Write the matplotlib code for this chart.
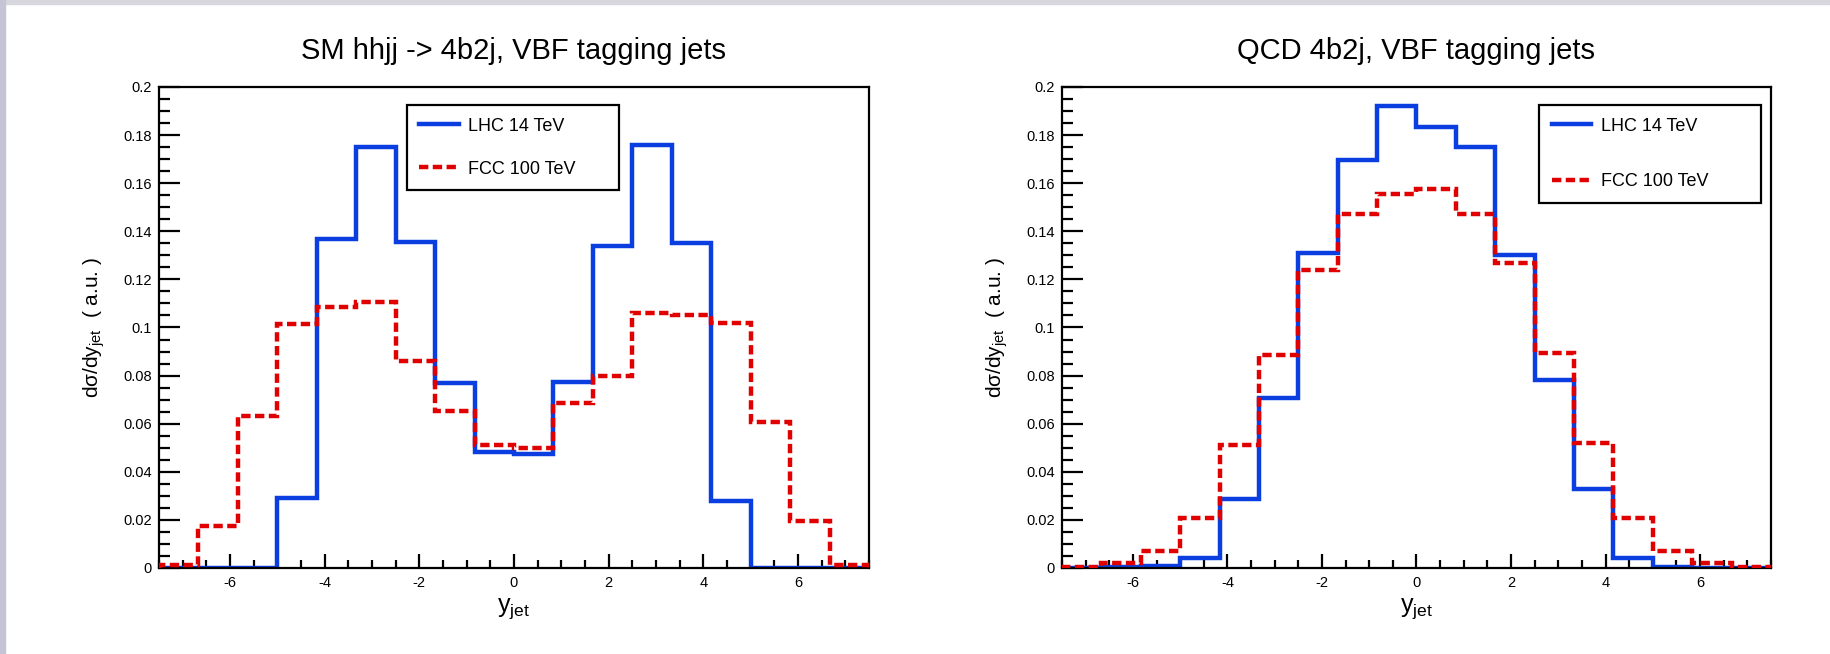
import numpy as np
import matplotlib.pyplot as plt
from matplotlib.patches import Rectangle
from matplotlib.ticker import MultipleLocator

plt.rcParams['font.family'] = ['Liberation Sans', 'DejaVu Sans']
plt.rcParams['mathtext.fontset'] = 'custom'
plt.rcParams['mathtext.rm'] = 'Liberation Sans'
plt.rcParams['mathtext.it'] = 'Liberation Sans'
plt.rcParams['axes.unicode_minus'] = False

# 18 bins over [-7.5, 7.5]
edges = np.linspace(-7.5, 7.5, 19)

# SM hhjj -> 4b2j (left panel)
sm_lhc = [0.0, 0.0, 0.0, 0.0293, 0.1367, 0.1749, 0.1354, 0.0770, 0.0484,
          0.0475, 0.0775, 0.1340, 0.1757, 0.1350, 0.0277, 0.0, 0.0, 0.0]
sm_fcc = [0.0012, 0.0173, 0.0630, 0.1016, 0.1085, 0.1106, 0.0861, 0.0653, 0.0510,
          0.0500, 0.0688, 0.0800, 0.1060, 0.1050, 0.1017, 0.0605, 0.0194, 0.0012]

# QCD 4b2j (right panel)
qcd_lhc = [0.0, 0.0003, 0.0007, 0.0040, 0.0286, 0.0705, 0.1309, 0.1697, 0.1920,
           0.1832, 0.1749, 0.1300, 0.0783, 0.0330, 0.0040, 0.0003, 0.0, 0.0]
qcd_fcc = [0.0004, 0.0020, 0.0070, 0.0208, 0.0510, 0.0887, 0.1237, 0.1471, 0.1553,
           0.1575, 0.1471, 0.1269, 0.0896, 0.0518, 0.0206, 0.0070, 0.0020, 0.0004]

titles = ["SM hhjj -> 4b2j, VBF tagging jets", "QCD 4b2j, VBF tagging jets"]
labels = ["LHC 14 TeV", "FCC 100 TeV"]

blue = '#0a3ee0'
red = '#e00000'

fig = plt.figure(figsize=(18.31, 6.54), dpi=100)
fig.patch.set_facecolor('white')

# thin grey frame of the screenshot
fig.patches.append(Rectangle((0, 0.994), 1, 0.006, transform=fig.transFigure,
                             color='#d6d6dc', zorder=-1))
fig.patches.append(Rectangle((0, 0), 0.003, 1, transform=fig.transFigure,
                             color='#c4c4d6', zorder=-1))

ax1 = fig.add_axes([0.0868, 0.1315, 0.3878, 0.7355])
ax2 = fig.add_axes([0.5800, 0.1315, 0.3872, 0.7355])

panels = [(ax1, sm_lhc, sm_fcc, (0.349, 0.784, 0.299, 0.1786), 1.45),
          (ax2, qcd_lhc, qcd_fcc, (0.673, 0.753, 0.313, 0.2096), 2.15)]

for i, (ax, lhc, fcc, leg_box, spacing) in enumerate(panels):
    ax.stairs(lhc, edges, color=blue, linewidth=3.2, label=labels[0], zorder=2)
    ax.stairs(fcc, edges, color=red, linewidth=3.2, linestyle=(0, (2.1, 1.0)),
              label=labels[1], zorder=3)

    ax.set_xlim(-7.5, 7.5)
    ax.set_ylim(0, 0.2)
    ax.xaxis.set_major_locator(MultipleLocator(2))
    ax.xaxis.set_minor_locator(MultipleLocator(0.5))
    ax.yaxis.set_major_locator(MultipleLocator(0.02))
    ax.yaxis.set_minor_locator(MultipleLocator(0.005))
    ax.yaxis.set_major_formatter(lambda v, p: "0" if v == 0 else f"{v:.2f}".rstrip('0'))

    ax.tick_params(axis='both', which='both', direction='in', top=False, right=False,
                   labelsize=10.5, colors='black', width=1.6)
    ax.tick_params(axis='y', which='major', length=15, pad=5)
    ax.tick_params(axis='y', which='minor', length=8)
    ax.tick_params(axis='x', which='major', length=10, pad=6)
    ax.tick_params(axis='x', which='minor', length=6)
    for s in ax.spines.values():
        s.set_linewidth(1.6)

    ax.set_title(titles[i], fontsize=21, pad=20)
    ax.set_xlabel(r"y$_{\mathregular{jet}}$", fontsize=18, labelpad=4)
    ax.set_ylabel(r"d$\sigma$/dy$_{\mathregular{jet}}$  ( a.u. )", fontsize=15, labelpad=12)

    leg = ax.legend(loc='upper left', bbox_to_anchor=leg_box, mode='expand',
                    borderaxespad=0, fancybox=False, fontsize=13, handlelength=2.2,
                    handletextpad=0.5, labelspacing=spacing, borderpad=0.7)
    leg.get_frame().set_edgecolor('black')
    leg.get_frame().set_linewidth(1.6)
    leg.get_frame().set_alpha(1)

fig.savefig('out.png', dpi=100)
